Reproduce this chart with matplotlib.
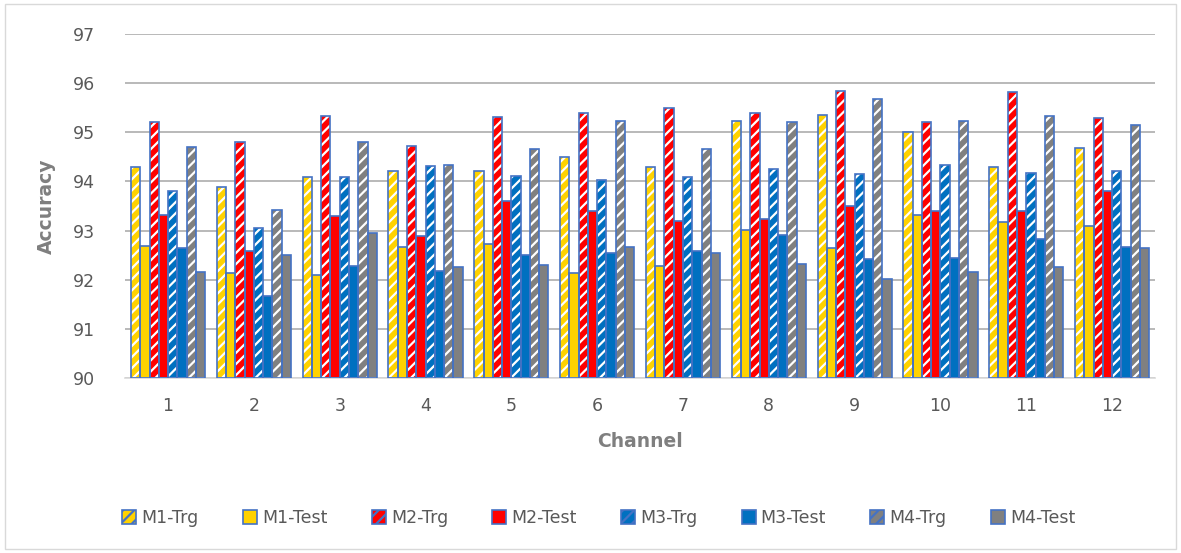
import numpy as np
import matplotlib
matplotlib.use("Agg")
import matplotlib.pyplot as plt
from matplotlib.patches import Patch, Rectangle

channels = [str(i) for i in range(1, 13)]
series_names = ["M1-Trg", "M1-Test", "M2-Trg", "M2-Test",
                "M3-Trg", "M3-Test", "M4-Trg", "M4-Test"]

m1_trg = [94.30, 93.89, 94.09, 94.21, 94.21, 94.49, 94.29, 95.22, 95.35, 95.01, 94.30, 94.69]
m1_test = [92.68, 92.14, 92.10, 92.67, 92.73, 92.14, 92.27, 93.02, 92.65, 93.31, 93.17, 93.10]
m2_trg = [95.20, 94.81, 95.34, 94.72, 95.32, 95.40, 95.50, 95.40, 95.85, 95.20, 95.81, 95.30]
m2_test = [93.31, 92.59, 93.29, 92.88, 93.61, 93.40, 93.20, 93.24, 93.50, 93.40, 93.40, 93.81]
m3_trg = [93.80, 93.05, 94.10, 94.31, 94.11, 94.02, 94.10, 94.25, 94.15, 94.33, 94.17, 94.22]
m3_test = [92.65, 91.67, 92.27, 92.17, 92.50, 92.54, 92.59, 92.90, 92.42, 92.44, 92.83, 92.67]
m4_trg = [94.70, 93.42, 94.81, 94.33, 94.67, 95.23, 94.67, 95.21, 95.67, 95.22, 95.34, 95.14]
m4_test = [92.15, 92.51, 92.95, 92.26, 92.30, 92.67, 92.55, 92.31, 92.02, 92.16, 92.26, 92.65]

series = [m1_trg, m1_test, m2_trg, m2_test, m3_trg, m3_test, m4_trg, m4_test]
colors = ["#FFD200", "#FFD200", "#FF0000", "#FF0000",
          "#0070C0", "#0070C0", "#808080", "#808080"]
hatched = [True, False, True, False, True, False, True, False]

edge = "#4472C4"
base = 90
plt.rcParams["hatch.linewidth"] = 1.6

fig = plt.figure(figsize=(11.81, 5.53), dpi=100)
ax = fig.add_axes([0.106, 0.3165, 0.872, 0.622])

x = np.arange(len(channels))
width = 0.108
for i, (vals, col, h) in enumerate(zip(series, colors, hatched)):
    pos = x + (i - 3.5) * width
    heights = np.array(vals) - base
    # fill (with white hatch for training bars)
    ax.bar(pos, heights, width, bottom=base, color=col,
           edgecolor="white" if h else col, linewidth=0,
           hatch="///" if h else None, zorder=2)
    # outline
    ax.bar(pos, heights, width, bottom=base, facecolor="none",
           edgecolor=edge, linewidth=1.2, zorder=3)

ax.set_ylim(90, 97)
ax.set_xlim(-0.5, len(channels) - 0.5)
ax.set_yticks(range(90, 98))
ax.set_xticks(x)
ax.set_xticklabels(channels)
ax.tick_params(axis="both", length=0, labelsize=12.5, colors="#595959")
ax.tick_params(axis="x", pad=14)
ax.tick_params(axis="y", pad=22)
ax.yaxis.grid(True, color="#A6A6A6", linewidth=1.1, zorder=0)
ax.set_axisbelow(True)
for s in ["top", "right", "left"]:
    ax.spines[s].set_visible(False)
ax.spines["bottom"].set_color("#D9D9D9")
ax.spines["bottom"].set_linewidth(1.2)

ax.set_ylabel("Accuracy", fontsize=13.5, fontweight="bold", color="#7F7F7F", labelpad=12)
ax.set_xlabel("Channel", fontsize=13.5, fontweight="bold", color="#7F7F7F", labelpad=12)

handles = []
for name, col, h in zip(series_names, colors, hatched):
    handles.append(Patch(facecolor=col, edgecolor=edge, linewidth=1.2,
                         hatch="///" if h else None, label=name))
leg = fig.legend(handles=handles, loc="center", bbox_to_anchor=(0.507, 0.063),
                 ncol=8, frameon=False, fontsize=12.5, handlelength=0.8,
                 handleheight=0.8, handletextpad=0.3, columnspacing=2.55)
for t in leg.get_texts():
    t.set_color("#595959")

fig.patches.append(Rectangle((0.004, 0.008), 0.992, 0.984, transform=fig.transFigure,
                             fill=False, edgecolor="#D9D9D9", linewidth=1.0))

fig.savefig("out.png", dpi=100)
